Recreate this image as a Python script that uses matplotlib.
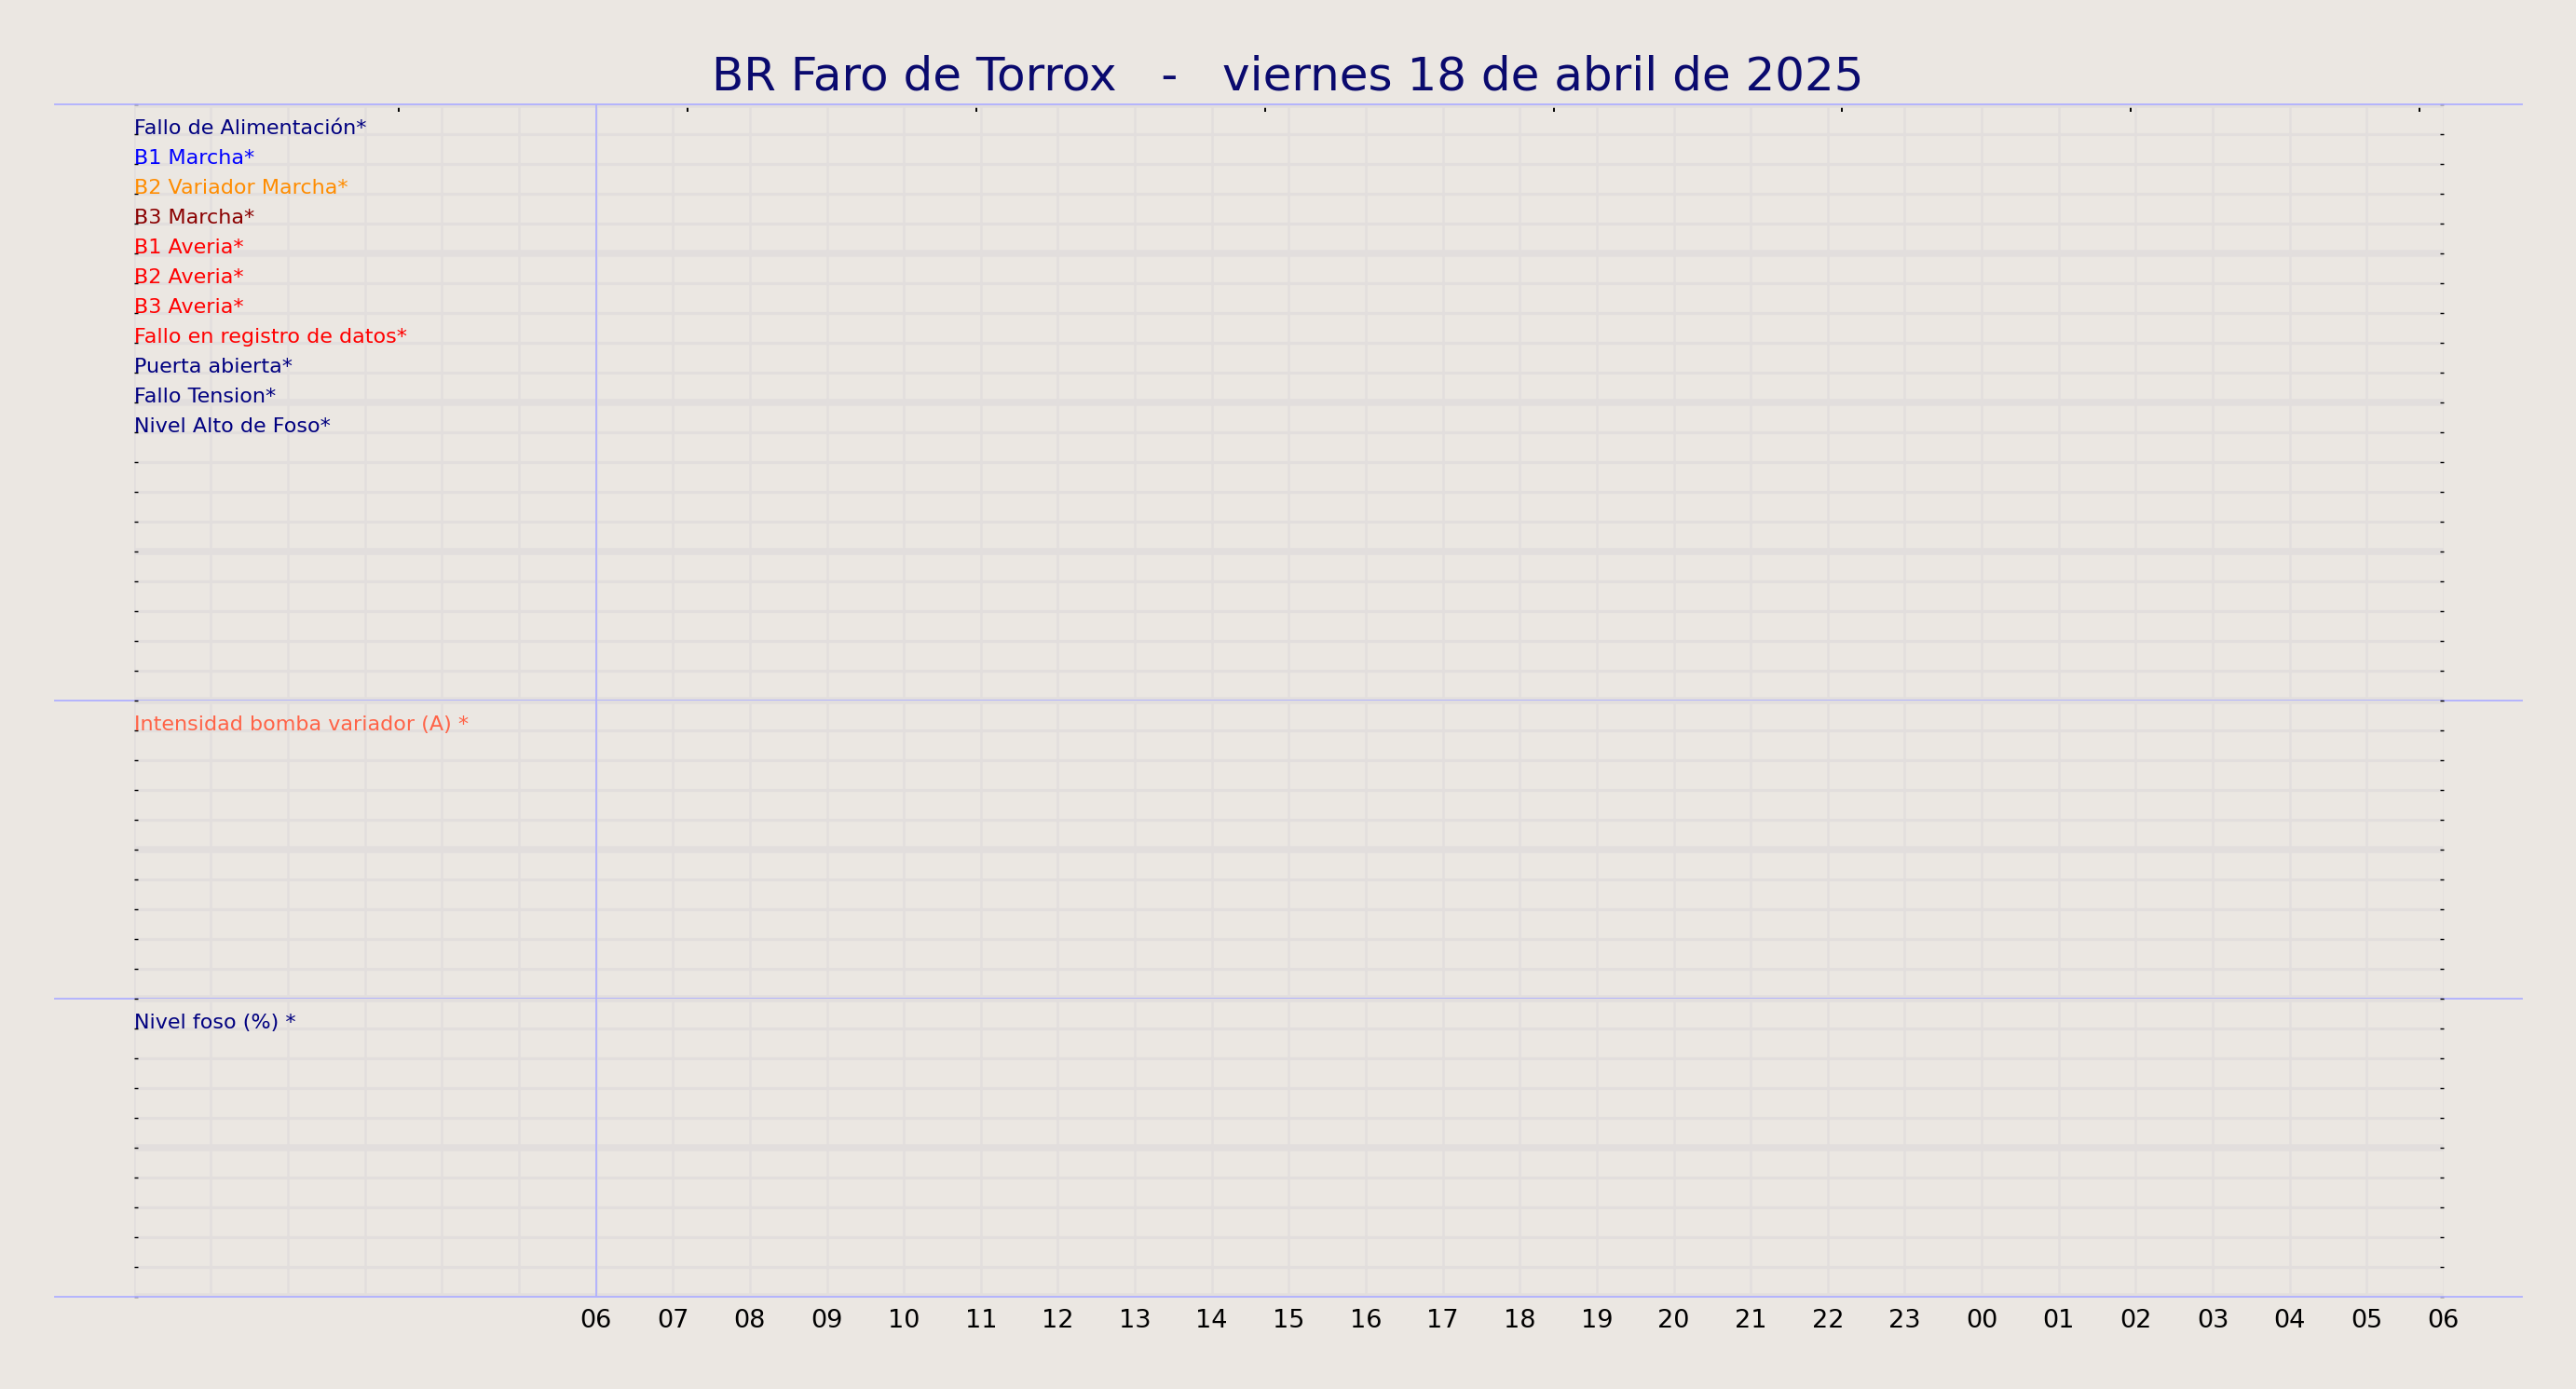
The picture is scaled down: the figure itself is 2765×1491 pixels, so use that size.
import numpy as np
import matplotlib
matplotlib.use("Agg")
import matplotlib.pyplot as plt
from matplotlib.ticker import MultipleLocator

# datos del grafico
titulo = "BR Faro de Torrox   -   viernes 18 de abril de 2025"

senales = ["Fallo de Alimentación*", "B1 Marcha*", "B2 Variador Marcha*", "B3 Marcha*",
           "B1 Averia*", "B2 Averia*", "B3 Averia*", "Fallo en registro de datos*",
           "Puerta abierta*", "Fallo Tension*", "Nivel Alto de Foso*"]
colores_senales = ["navy", "blue", "darkorange", "darkred",
                   "red", "red", "red", "red",
                   "navy", "navy", "navy"]

analogicas = ["Intensidad bomba variador (A) *", "Nivel foso (%) *"]
colores_analogicas = ["tomato", "navy"]

horas = np.arange(0, 31)  # horas desde 18/04 00:00 hasta 19/04 06:00
etiquetas_horas = [""] * 6 + ["%02d" % (h % 24) for h in range(6, 31)]
ticks_arriba = [3.44, 7.19, 10.94, 14.69, 18.44, 22.19, 25.94, 29.69]
hora_inicio = 6

fondo = "#ebe7e2"
gris = "#e2dedd"
azul = "#b0b0ff"

fig = plt.figure(figsize=(27.65, 14.91), dpi=100, facecolor=fondo)
gs = fig.add_gridspec(3, 1, height_ratios=[2, 1, 1], left=0.052, right=0.9486,
                      top=0.9247, bottom=0.0662, hspace=0)

filas = [20, 10, 10]
axes = []
for i in range(3):
    ax = fig.add_subplot(gs[i])
    ax.set_facecolor(fondo)
    ax.set_xlim(horas[0], horas[-1])
    ax.set_ylim(filas[i], 0)
    ax.set_xticks(horas)
    ax.set_xticklabels(etiquetas_horas)
    ax.yaxis.set_major_locator(MultipleLocator(5))
    ax.yaxis.set_minor_locator(MultipleLocator(1))
    ax.set_yticklabels([])
    ax.grid(which="major", axis="y", color=gris, lw=5.4, zorder=0)
    ax.grid(which="minor", axis="y", color=gris, lw=2.2, zorder=0)
    ax.grid(which="major", axis="x", color=gris, lw=1.8, zorder=0)
    ax.set_axisbelow(True)
    for s in ax.spines.values():
        s.set_visible(False)
    ax.tick_params(axis="y", which="both", direction="in", left=True, right=True,
                   length=3, width=1, labelleft=False)
    ax.tick_params(axis="x", which="both", length=0, labelsize=19.5, pad=9,
                   labelbottom=(i == 2), top=False)
    ax.axvline(hora_inicio, color=azul, lw=1.3, zorder=3)
    ax.axhline(filas[i], xmin=-0.034, xmax=1.034, color=azul, lw=1.3,
               clip_on=False, zorder=3)
    if i == 0:
        ax.axhline(0, xmin=-0.034, xmax=1.034, color=azul, lw=1.3,
                   clip_on=False, zorder=3)
    axes.append(ax)

# etiquetas de senales digitales
for k, (txt, col) in enumerate(zip(senales, colores_senales)):
    axes[0].text(horas[0], k + 1, txt, color=col, fontsize=16, ha="left",
                 va="baseline", zorder=4)

# etiquetas de senales analogicas
for ax, txt, col in zip(axes[1:], analogicas, colores_analogicas):
    ax.text(horas[0], 1, txt, color=col, fontsize=16, ha="left", va="baseline", zorder=4)

# marcas superiores
sec = axes[0].secondary_xaxis("top")
sec.set_xticks(ticks_arriba)
sec.tick_params(direction="in", length=6, width=1.4, labeltop=False, color="black")
for s in sec.spines.values():
    s.set_visible(False)

fig.text(0.5, 0.945, titulo, ha="center", va="center", fontsize=36, color="#0a0a6e")

fig.savefig("out.png", dpi=100, facecolor=fondo)
